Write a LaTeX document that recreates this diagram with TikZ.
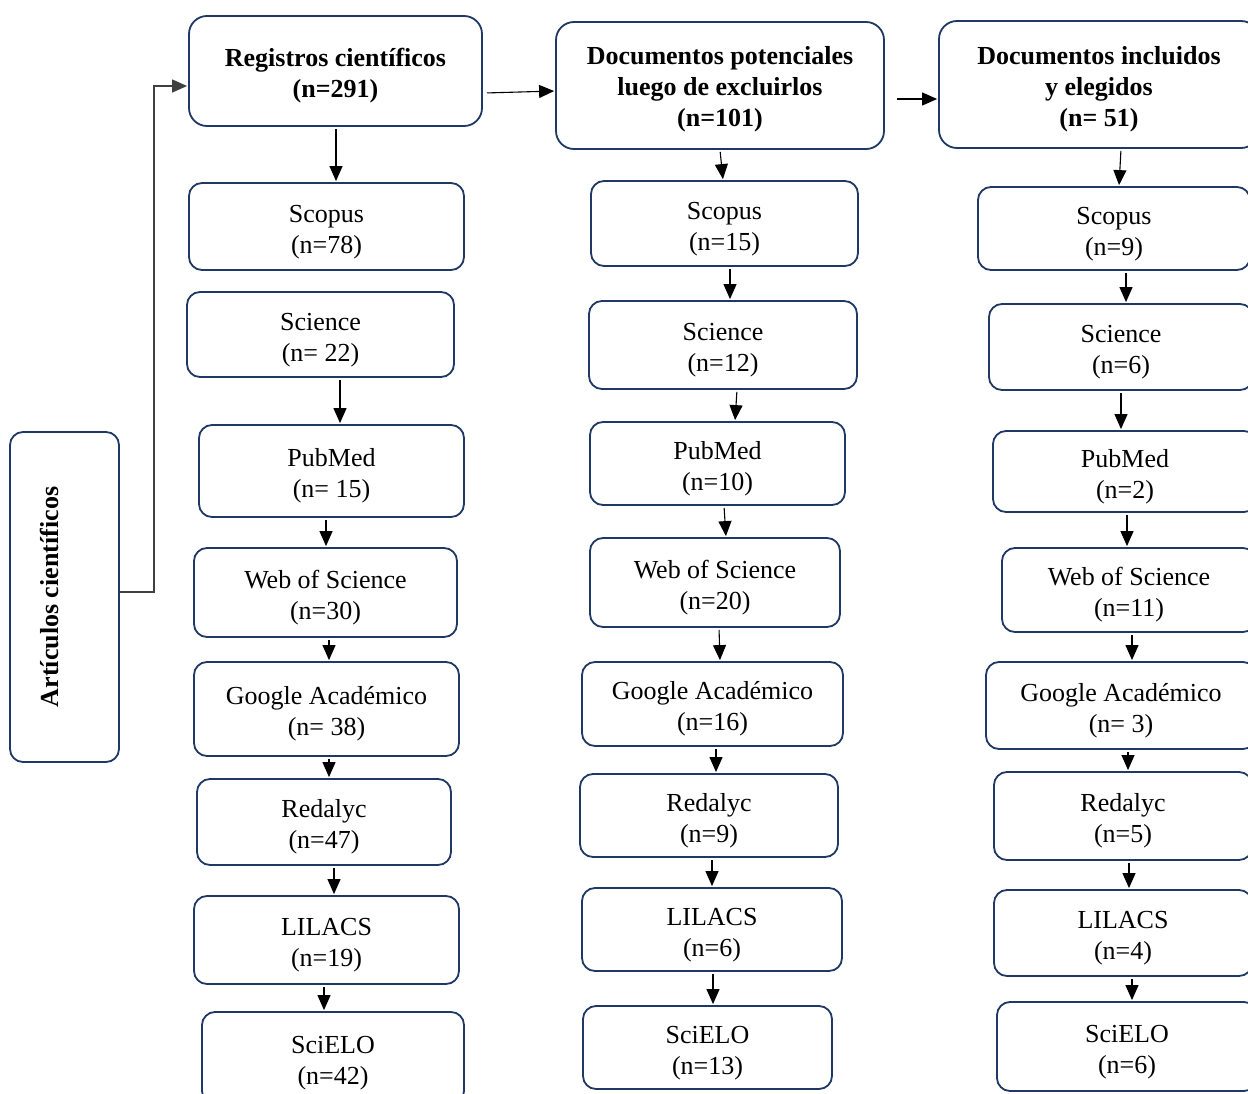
\documentclass[tikz,border=0pt]{standalone}
\usepackage{fontspec}
\setmainfont{Liberation Serif}
\usetikzlibrary{arrows.meta}
\definecolor{bordeazul}{HTML}{1F3864}
\definecolor{lineagris}{HTML}{404040}
\newcommand{\alto}{\rule{0pt}{28pt}}
\tikzset{
  marco/.style={draw=bordeazul, line width=1.8pt, rounded corners=13pt, align=center,
    inner sep=0pt},
  caja/.style={marco, font=\fontsize{26}{31}\selectfont},
  cabecera/.style={marco, rounded corners=18pt, font=\fontsize{26}{31}\selectfont\bfseries},
  flecha/.style={-{Triangle[length=15pt,width=13pt]}, line width=1.1pt,
    shorten <=2pt, shorten >=1pt},
}

\begin{document}
\begin{tikzpicture}[x=1pt,y=-1pt]
  \fill[white] (0,0) rectangle (1248,1094);
  \useasboundingbox (0,0) rectangle (1248,1094);
  \clip (0,0) rectangle (1248,1094);

  \node[marco, font=\fontsize{26}{31}\selectfont\bfseries, rotate=90,
    minimum width=330pt, minimum height=109pt] (art) at (64.5,597)
    {Artículos científicos\rule[-30pt]{0pt}{30pt}};

  % registros
  \node[cabecera, minimum width=293pt, minimum height=110pt] (reg) at (335.5,71)
    {\alto Registros científicos\\(n=291)};
  \node[caja, minimum width=275pt, minimum height=87pt] (s1) at (326.5,226.5) {\alto Scopus\\(n=78)};
  \node[caja, minimum width=267pt, minimum height=85pt] (s2) at (320.5,334.5) {\alto Science\\(n= 22)};
  \node[caja, minimum width=265pt, minimum height=92pt] (s3) at (331.5,471) {\alto PubMed\\(n= 15)};
  \node[caja, minimum width=263pt, minimum height=89pt] (s4) at (325.5,592.5) {\alto Web of Science\\(n=30)};
  \node[caja, minimum width=265pt, minimum height=94pt] (s5) at (326.5,709) {\alto Google Académico\\(n= 38)};
  \node[caja, minimum width=254pt, minimum height=86pt] (s6) at (324,822) {\alto Redalyc\\(n=47)};
  \node[caja, minimum width=265pt, minimum height=88pt] (s7) at (326.5,940) {\alto LILACS\\(n=19)};
  \node[caja, minimum width=262pt, minimum height=92pt] (s8) at (333,1058) {\alto SciELO\\(n=42)};

  % potenciales
  \node[cabecera, minimum width=328pt, minimum height=127pt] (pot) at (720,85.5)
    {\rule{0pt}{25pt}Documentos potenciales\\luego de excluirlos\\(n=101)};
  \node[caja, minimum width=267pt, minimum height=85pt] (p1) at (724.5,223.5) {\alto Scopus\\(n=15)};
  \node[caja, minimum width=268pt, minimum height=88pt] (p2) at (723,345) {\alto Science\\(n=12)};
  \node[caja, minimum width=255pt, minimum height=83pt] (p3) at (717.5,463.5) {\alto PubMed\\(n=10)};
  \node[caja, minimum width=250pt, minimum height=89pt] (p4) at (715,582.5) {\alto Web of Science\\(n=20)};
  \node[caja, minimum width=261pt, minimum height=84pt] (p5) at (712.5,704) {\alto Google Académico\\(n=16)};
  \node[caja, minimum width=258pt, minimum height=83pt] (p6) at (709,815.5) {\alto Redalyc\\(n=9)};
  \node[caja, minimum width=260pt, minimum height=83pt] (p7) at (712,929.5) {\alto LILACS\\(n=6)};
  \node[caja, minimum width=249pt, minimum height=83pt] (p8) at (707.5,1047.5) {\alto SciELO\\(n=13)};

  % incluidos
  \node[cabecera, minimum width=320pt, minimum height=127pt] (inc) at (1099,84.5)
    {\rule{0pt}{27pt}Documentos incluidos\\y elegidos\\(n= 51)};
  \node[caja, minimum width=272pt, minimum height=83pt] (e1) at (1114,228.5) {\alto Scopus\\(n=9)};
  \node[caja, minimum width=264pt, minimum height=86pt] (e2) at (1121,347) {\alto Science\\(n=6)};
  \node[caja, minimum width=264pt, minimum height=81pt] (e3) at (1125,471.5) {\alto PubMed\\(n=2)};
  \node[caja, minimum width=254pt, minimum height=84pt] (e4) at (1129,590) {\alto Web of Science\\(n=11)};
  \node[caja, minimum width=270pt, minimum height=87pt] (e5) at (1121,705.5) {\alto Google Académico\\(n= 3)};
  \node[caja, minimum width=258pt, minimum height=88pt] (e6) at (1123,816) {\alto Redalyc\\(n=5)};
  \node[caja, minimum width=258pt, minimum height=86pt] (e7) at (1123,933) {\alto LILACS\\(n=4)};
  \node[caja, minimum width=260pt, minimum height=89pt] (e8) at (1127,1046.5) {\alto SciELO\\(n=6)};

  \draw[flecha, color=lineagris, line width=1.3pt, shorten <=0pt]
    ([yshift=5pt]art.south) -- ++(34,0) |- ([yshift=-15pt]reg.west);
  \draw[flecha] ([xshift=2pt,yshift=-22pt]reg.east) -- ([yshift=-5.5pt]pot.west);
  \draw[flecha] ([xshift=10pt,yshift=-13.5pt]pot.east) -- ([yshift=-14.5pt]inc.west);

  \foreach \a/\da/\b/\db in {reg/0.5/s1/9.5, s2/19.5/s3/8.5, s3/-5.5/s4/0.5, s4/3.5/s5/2.5,
      s5/2.5/s6/5, s6/10/s7/7.5, s7/-2.5/s8/-9,
      pot/0/p1/-1.5, p1/5.5/p2/7, p2/14/p3/17.5, p3/6.5/p4/11, p4/4/p5/7.5,
      p5/3.5/p6/7, p6/3/p7/0, p7/1/p8/5.5,
      inc/22/e1/5, e1/12/e2/5, e2/0/e3/-4, e3/2/e4/-2, e4/3/e5/11,
      e5/7/e6/5, e6/6/e7/6, e7/9/e8/5}
    \draw[flecha] ([xshift=\da pt]\a.south) -- ([xshift=\db pt]\b.north);
\end{tikzpicture}
\end{document}
